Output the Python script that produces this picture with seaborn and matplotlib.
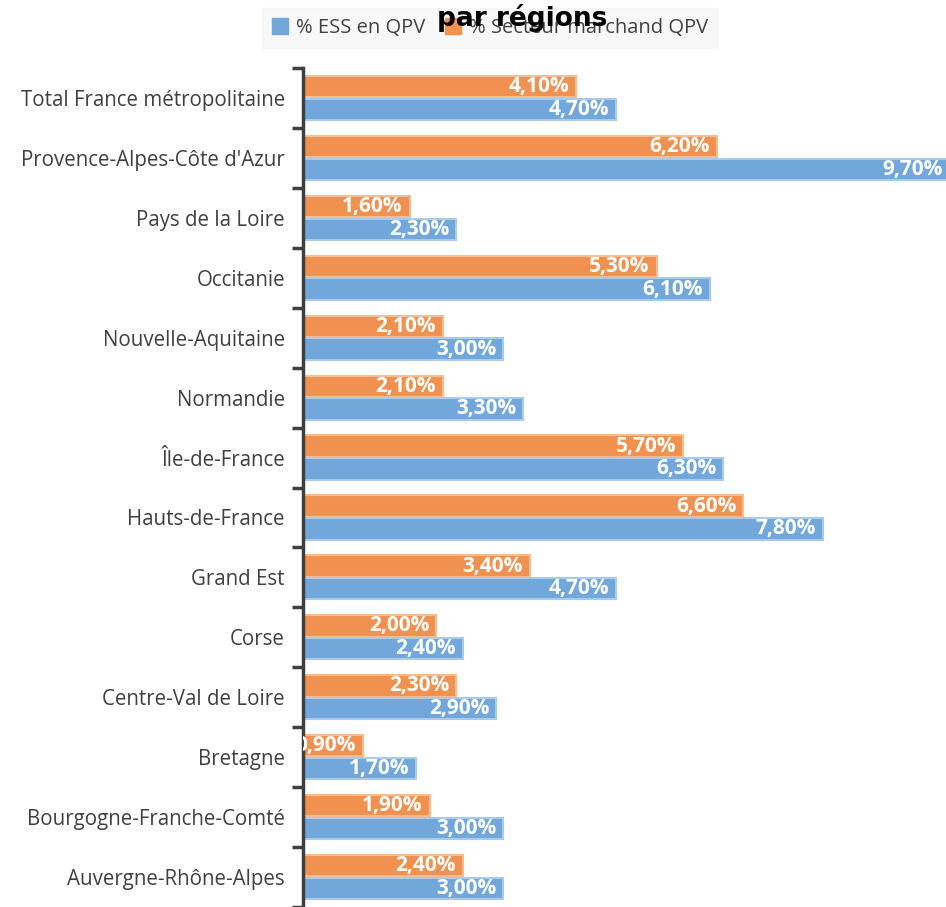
import matplotlib
matplotlib.use("Agg")
import matplotlib.pyplot as plt
import seaborn as sns
import pandas as pd
import numpy as np
from matplotlib.patches import Patch
from matplotlib.ticker import FixedLocator

regions = [
    "Total France métropolitaine",
    "Provence-Alpes-Côte d'Azur",
    "Pays de la Loire",
    "Occitanie",
    "Nouvelle-Aquitaine",
    "Normandie",
    "Île-de-France",
    "Hauts-de-France",
    "Grand Est",
    "Corse",
    "Centre-Val de Loire",
    "Bretagne",
    "Bourgogne-Franche-Comté",
    "Auvergne-Rhône-Alpes",
]
ess_qpv = [4.7, 9.7, 2.3, 6.1, 3.0, 3.3, 6.3, 7.8, 4.7, 2.4, 2.9, 1.7, 3.0, 3.0]
marchand_qpv = [4.1, 6.2, 1.6, 5.3, 2.1, 2.1, 5.7, 6.6, 3.4, 2.0, 2.3, 0.9, 1.9, 2.4]
series_names = ["% ESS en QPV", "% Secteur marchand QPV"]
title = "par régions"

blue = "#71A7DA"
orange = "#F0914F"
blue_edge = "#A9CAEB"
orange_edge = "#F6BC92"

df = pd.concat([
    pd.DataFrame({"region": regions, "value": marchand_qpv, "serie": series_names[1]}),
    pd.DataFrame({"region": regions, "value": ess_qpv, "serie": series_names[0]}),
])

sns.set_theme(style="white")
plt.rcParams["font.family"] = ["Open Sans", "DejaVu Sans"]

fig = plt.figure(figsize=(9.46, 9.07), dpi=100)
ax = fig.add_axes([303 / 946, 0.0, 1 - 303 / 946, (907 - 68) / 907])

sns.barplot(data=df, y="region", x="value", hue="serie", order=regions,
            hue_order=[series_names[1], series_names[0]],
            palette=[orange, blue], orient="h", width=0.76, gap=0.06,
            ax=ax, legend=False, saturation=1)

for container, ecol in zip(ax.containers, [orange_edge, blue_edge]):
    for bar in container:
        bar.set_edgecolor(ecol)
        bar.set_linewidth(1.5)
    vals = container.datavalues
    for bar, v in zip(container, vals):
        y = bar.get_y() + bar.get_height() / 2
        ax.annotate(f"{v:.2f}%".replace(".", ","), xy=(v, y), xytext=(-7, 0),
                    textcoords="offset pixels",
                    ha="right", va="center", color="white", fontsize=15,
                    fontweight="bold", annotation_clip=False, clip_on=True)

ax.set_xlim(0, 9.64)
ax.set_ylim(len(regions) - 0.5, -0.5)
ax.set_xlabel("")
ax.set_ylabel("")
ax.set_xticks([])
ax.tick_params(axis="y", which="major", left=False, length=0, pad=13, labelsize=14.8,
               labelcolor="#404040")
ax.yaxis.set_minor_locator(FixedLocator(np.arange(-0.5, len(regions), 1.0)))
ax.tick_params(axis="y", which="minor", left=True, length=8, width=2.5, color="#404040")
for s in ["top", "right", "bottom"]:
    ax.spines[s].set_visible(False)
ax.spines["left"].set_color("#404040")
ax.spines["left"].set_linewidth(2.5)

handles = [Patch(facecolor=blue, edgecolor=blue), Patch(facecolor=orange, edgecolor=orange)]
leg = fig.legend(handles, series_names, loc="center", bbox_to_anchor=(490 / 946, 1 - 28 / 907),
                 ncol=2, frameon=True, fontsize=14.5, handlelength=0.8, handleheight=0.8,
                 handletextpad=0.4, columnspacing=1.0, borderpad=0.5)
leg.get_frame().set_facecolor("#F7F7F7")
leg.get_frame().set_edgecolor("#F7F7F7")
leg.get_frame().set_boxstyle("square", pad=0)
for t in leg.get_texts():
    t.set_color("#404040")

fig.text(522 / 946, 1 - 18 / 907, title, ha="center", va="center", fontsize=19,
         fontweight="bold", color="black", family=["DejaVu Sans"], zorder=10)

fig.savefig("out.png", dpi=100)
